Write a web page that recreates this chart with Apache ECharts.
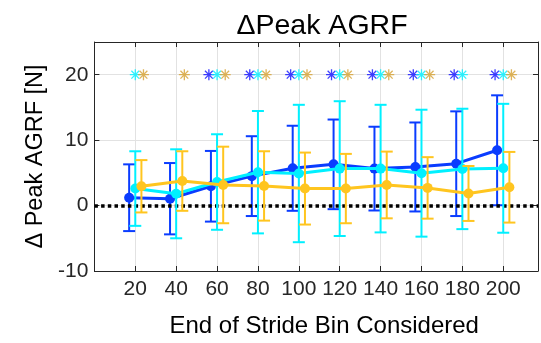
<!DOCTYPE html>
<html>
<head>
<meta charset="utf-8">
<script src="https://cdn.jsdelivr.net/npm/echarts@6/dist/echarts.min.js"></script>
<style>
  html, body { margin: 0; padding: 0; background: #fff; }
  #chart { width: 541px; height: 343px; }
</style>
</head>
<body>
<div id="chart"></div>
<script>
// stride bins (x ticks) and values
const bins = [20, 40, 60, 80, 100, 120, 140, 160, 180, 200];
const yTicks = [-10, 0, 10, 20];

const blueMean = [1.2, 1.05, 2.95, 4.5, 5.7, 6.3, 5.65, 5.9, 6.4, 8.45];
const blueSd = [5.1, 5.45, 5.4, 6.1, 6.5, 6.85, 6.4, 6.8, 8.0, 8.4];
const cyanMean = [2.6, 1.8, 3.6, 5.1, 4.9, 5.65, 5.65, 4.95, 5.6, 5.7];
const cyanSd = [5.7, 6.8, 7.3, 9.35, 10.5, 10.3, 9.75, 9.7, 9.2, 9.85];
const goldMean = [2.95, 3.75, 3.15, 3.0, 2.6, 2.6, 3.15, 2.7, 1.85, 2.8];
const goldSd = [4.0, 4.55, 5.85, 5.3, 5.5, 5.3, 5.1, 4.7, 4.2, 5.4];

// bins flagged with an asterisk, per series
const sigLevel = 20;
const sigBlue = [60, 80, 100, 120, 140, 160, 180, 200];
const sigCyan = [20, 60, 80, 100, 120, 140, 160, 180, 200];
const sigGold = [20, 40, 60, 80, 100, 120, 140, 160, 200];

const FONT = '"Liberation Sans", Arial, Helvetica, sans-serif';
const AXIS_COLOR = '#262626';
const GRID_COLOR = '#e2e2e2';

const ASTERISK =
  'path://M0 44L100 44L100 56L0 56Z' +
  'M44 0L56 0L56 100L44 100Z' +
  'M10.4 18.8L18.8 10.4L89.6 81.2L81.2 89.6Z' +
  'M81.2 10.4L89.6 18.8L18.8 89.6L10.4 81.2Z';

const groups = [
  { name: 'blue', mean: blueMean, sd: blueSd, sig: sigBlue, shift: -3, sigShift: -4,
    color: '#0a3cff', sigColor: '#1010ff' },
  { name: 'cyan', mean: cyanMean, sd: cyanSd, sig: sigCyan, shift: 0, sigShift: 0,
    color: '#00f0ff', sigColor: '#00f0ff' },
  { name: 'gold', mean: goldMean, sd: goldSd, sig: sigGold, shift: 3, sigShift: 4,
    color: '#ffc51f', sigColor: '#d6a132' }
];

function errorBarItem(color) {
  return function (params, api) {
    const x = api.value(0);
    const lo = api.coord([x, api.value(1)]);
    const hi = api.coord([x, api.value(2)]);
    const half = 6;
    const style = { stroke: color, lineWidth: 2 };
    return {
      type: 'group',
      children: [
        { type: 'line', shape: { x1: lo[0], y1: lo[1], x2: hi[0], y2: hi[1] }, style },
        { type: 'line', shape: { x1: lo[0] - half, y1: lo[1], x2: lo[0] + half, y2: lo[1] }, style },
        { type: 'line', shape: { x1: hi[0] - half, y1: hi[1], x2: hi[0] + half, y2: hi[1] }, style }
      ]
    };
  };
}

const series = [];
groups.forEach((g, k) => {
  const z = 2 + k * 3;
  series.push({
    name: g.name + '-err',
    type: 'custom',
    z: z,
    renderItem: errorBarItem(g.color),
    encode: { x: 0, y: [1, 2] },
    data: bins.map((b, i) => [b + g.shift, g.mean[i] - g.sd[i], g.mean[i] + g.sd[i]]),
    silent: true
  });
  series.push({
    name: g.name,
    type: 'line',
    z: z + 1,
    data: bins.map((b, i) => [b + g.shift, g.mean[i]]),
    symbol: 'circle',
    symbolSize: 10,
    showAllSymbol: true,
    lineStyle: { color: g.color, width: 3 },
    itemStyle: { color: g.color },
    silent: true
  });
  series.push({
    name: g.name + '-sig',
    type: 'scatter',
    z: z + 2,
    data: g.sig.map(b => [b + g.sigShift, sigLevel]),
    symbol: ASTERISK,
    symbolSize: 11,
    itemStyle: { color: g.sigColor },
    silent: true
  });
});

// zero reference line
series.push({
  name: 'zero',
  type: 'line',
  data: [],
  z: 20,
  markLine: {
    silent: true,
    symbol: 'none',
    label: { show: false },
    lineStyle: { color: '#000', width: 3.5, type: [3.5, 3.2] },
    data: [{ yAxis: 0 }]
  }
});

const chart = echarts.init(document.getElementById('chart'), null, { renderer: 'canvas' });
chart.setOption({
  animation: false,
  backgroundColor: '#fff',
  textStyle: { fontFamily: FONT },
  title: {
    text: '\u0394Peak AGRF',
    left: 317,
    top: 7,
    textAlign: 'center',
    textStyle: { fontFamily: FONT, fontSize: 28.5, fontWeight: 'normal', color: '#000' }
  },
  grid: { left: 94.4, top: 42, right: -1, bottom: 70.5, containLabel: false },
  xAxis: [
    {
      type: 'value',
      min: 0,
      max: 217,
      interval: 20,
      name: 'End of Stride Bin Considered',
      nameLocation: 'middle',
      nameGap: 43,
      nameTextStyle: { fontFamily: FONT, fontSize: 24, color: '#000', padding: [0, 0, 0, 16] },
      axisLine: { onZero: false, lineStyle: { color: AXIS_COLOR, width: 1 } },
      axisTick: { inside: true, length: 5, lineStyle: { color: AXIS_COLOR } },
      axisLabel: {
        margin: 8,
        fontFamily: FONT,
        fontSize: 21,
        color: AXIS_COLOR,
        formatter: v => (bins.includes(v) ? String(v) : '')
      },
      splitLine: { show: true, lineStyle: { color: GRID_COLOR, width: 1 } }
    },
    {
      type: 'value',
      position: 'top',
      min: 0,
      max: 217,
      interval: 20,
      axisLine: { onZero: false, lineStyle: { color: AXIS_COLOR, width: 1 } },
      axisTick: { inside: true, length: 5, lineStyle: { color: AXIS_COLOR } },
      axisLabel: { show: false },
      splitLine: { show: false }
    }
  ],
  yAxis: [
    {
      type: 'value',
      min: -10,
      max: 25,
      interval: 10,
      name: '\u0394 Peak AGRF [N]',
      nameLocation: 'middle',
      nameGap: 42,
      nameTextStyle: { fontFamily: FONT, fontSize: 23.5, color: '#000' },
      axisLine: { show: true, onZero: false, lineStyle: { color: AXIS_COLOR, width: 1 } },
      axisTick: { show: true, inside: true, length: 5, lineStyle: { color: AXIS_COLOR } },
      axisLabel: {
        margin: 6,
        fontFamily: FONT,
        fontSize: 21,
        color: AXIS_COLOR,
        formatter: v => (yTicks.includes(v) ? String(v) : '')
      },
      splitLine: { show: true, lineStyle: { color: GRID_COLOR, width: 1 } }
    },
    {
      type: 'value',
      position: 'right',
      min: -10,
      max: 25,
      interval: 10,
      axisLine: { show: true, onZero: false, lineStyle: { color: AXIS_COLOR, width: 1 } },
      axisTick: { show: true, inside: true, length: 5, lineStyle: { color: AXIS_COLOR } },
      axisLabel: { show: false },
      splitLine: { show: false }
    }
  ],
  series: series
});
</script>
</body>
</html>
